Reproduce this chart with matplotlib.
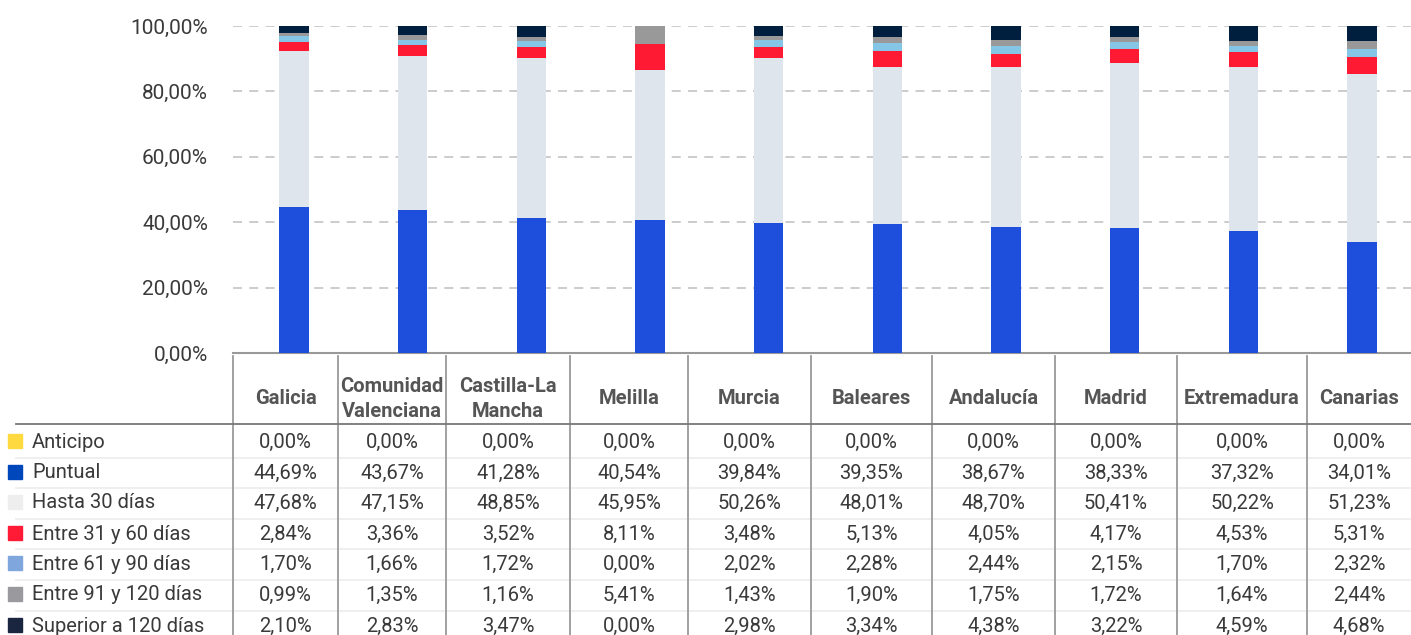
import matplotlib.pyplot as plt
from matplotlib.lines import Line2D
from matplotlib.patches import Rectangle
import numpy as np

plt.rcParams['font.family'] = ['Roboto', 'DejaVu Sans']

regiones = ["Galicia", "Comunidad\nValenciana", "Castilla-La\nMancha", "Melilla", "Murcia",
            "Baleares", "Andalucía", "Madrid", "Extremadura", "Canarias"]
series = ["Anticipo", "Puntual", "Hasta 30 días", "Entre 31 y 60 días",
          "Entre 61 y 90 días", "Entre 91 y 120 días", "Superior a 120 días"]

anticipo = [0.00, 0.00, 0.00, 0.00, 0.00, 0.00, 0.00, 0.00, 0.00, 0.00]
puntual = [44.69, 43.67, 41.28, 40.54, 39.84, 39.35, 38.67, 38.33, 37.32, 34.01]
hasta30 = [47.68, 47.15, 48.85, 45.95, 50.26, 48.01, 48.70, 50.41, 50.22, 51.23]
d31_60 = [2.84, 3.36, 3.52, 8.11, 3.48, 5.13, 4.05, 4.17, 4.53, 5.31]
d61_90 = [1.70, 1.66, 1.72, 0.00, 2.02, 2.28, 2.44, 2.15, 1.70, 2.32]
d91_120 = [0.99, 1.35, 1.16, 5.41, 1.43, 1.90, 1.75, 1.72, 1.64, 2.44]
sup120 = [2.10, 2.83, 3.47, 0.00, 2.98, 3.34, 4.38, 3.22, 4.59, 4.68]

valores = [anticipo, puntual, hasta30, d31_60, d61_90, d91_120, sup120]
col_barra = ["#ffd940", "#1e4fdc", "#dfe5ec", "#ff1a33", "#85c6e6", "#999999", "#001f3f"]
col_leyenda = ["#ffd940", "#0047bb", "#eeeeee", "#ff1a35", "#7fa6dd", "#9a9a9e", "#1a2540"]

W, H = 1411, 635
fig = plt.figure(figsize=(W / 100, H / 100), dpi=100)
ax = fig.add_axes([233 / W, 1 - 353 / H, (W - 233) / W, (353 - 26) / H])

x = np.arange(len(regiones))
base = np.zeros(len(regiones))
for vals, c in zip(valores, col_barra):
    v = np.array(vals) / 100
    ax.bar(x, v, bottom=base, width=0.245, color=c, zorder=3)
    base += v

ax.set_xlim(-0.514, 9.413)
ax.set_ylim(0, 1.0)
ticks = np.arange(0, 1.01, 0.2)
ax.set_yticks(ticks)
ax.set_yticklabels([f"{t*100:.2f}%".replace(".", ",") for t in ticks],
                   fontsize=15, color="#3a3a3a")
ax.yaxis.grid(True, linestyle=(0, (5, 4)), color="#c8c8c8", linewidth=1.3, zorder=0)
ax.set_xticks([])
ax.tick_params(axis="y", length=0, pad=18)
for s in ["top", "right", "left"]:
    ax.spines[s].set_visible(False)
ax.spines["bottom"].set_color("#999999")
ax.spines["bottom"].set_linewidth(1.5)

# tabla de datos bajo el grafico
def fy(py):
    return 1 - py / H

def fx(px):
    return px / W

bordes = [233, 338, 446, 570, 688, 811, 932, 1055, 1177, 1307, 1411]
for b in bordes[:-1]:
    fig.add_artist(Line2D([fx(b), fx(b)], [fy(356), fy(635)], color="#9a9a9a", lw=1.3))
fig.add_artist(Line2D([fx(16), 1], [fy(424), fy(424)], color="#777777", lw=1.3))

for i, r in enumerate(regiones):
    cx = (bordes[i] + bordes[i + 1]) / 2
    fig.text(fx(cx), fy(399), r, ha="center", va="center", fontsize=14.5,
             fontweight="bold", color="#555555", linespacing=1.35)

fila_y = [442, 473, 503, 534, 564, 595, 626]
for j, (nombre, vals) in enumerate(zip(series, valores)):
    yy = fy(fila_y[j])
    fig.add_artist(Rectangle((fx(8), yy - 6 / H), 14 / W, 14 / H, color=col_leyenda[j]))
    fig.text(fx(32), yy, nombre, ha="left", va="center", fontsize=14.5, color="#3a3a3a")
    for i, v in enumerate(vals):
        cx = (bordes[i] + bordes[i + 1]) / 2
        fig.text(fx(cx), yy, f"{v:.2f}%".replace(".", ","), ha="center", va="center",
                 fontsize=14.5, color="#3a3a3a")
    if j < len(series) - 1:
        ys = fy((fila_y[j] + fila_y[j + 1]) / 2)
        fig.add_artist(Line2D([fx(16), 1], [ys, ys], color="#eeeeee", lw=1.3, zorder=0))

fig.savefig("out.png", dpi=100)
